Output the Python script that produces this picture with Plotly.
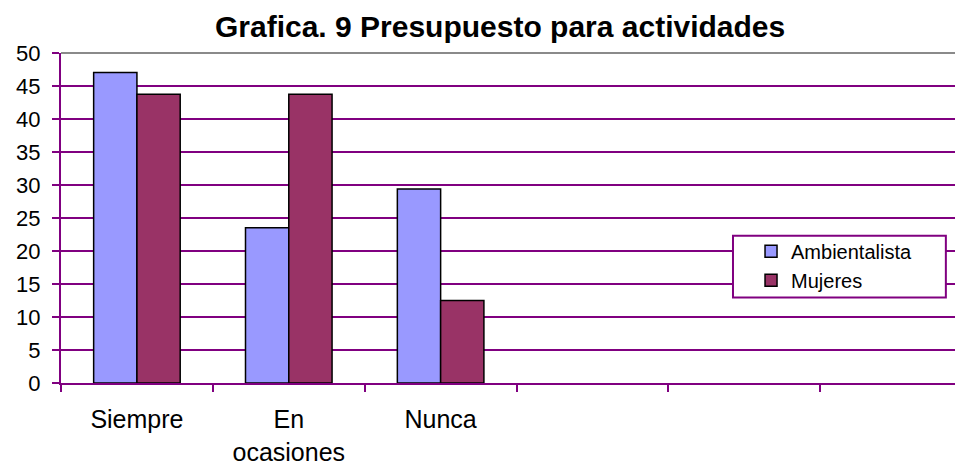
import plotly.graph_objects as go

categories = ["Siempre", "En<br>ocasiones", "Nunca", " ", "  ", "   "]
data_categories = ["Siempre", "En<br>ocasiones", "Nunca"]
ambientalista = [47.06, 23.53, 29.41]
mujeres = [43.75, 43.75, 12.5]

PURPLE = "#800080"
FONT = "Liberation Sans, Arial, sans-serif"

fig = go.Figure()
fig.add_trace(go.Bar(
    x=data_categories, y=ambientalista, name="Ambientalista",
    marker=dict(color="#9999FF", line=dict(color="black", width=1.5)),
))
fig.add_trace(go.Bar(
    x=data_categories, y=mujeres, name="Mujeres",
    marker=dict(color="#993366", line=dict(color="black", width=1.5)),
))

# legend frame and plot-area top border
fig.add_shape(type="rect", xref="paper", yref="paper",
              x0=0.745, x1=0.981, y0=0.259, y1=0.446,
              fillcolor="white", line=dict(color=PURPLE, width=2),
              layer="above")
fig.add_shape(type="line", xref="paper", yref="paper",
              x0=0, x1=1, y0=1, y1=1,
              line=dict(color="#8a8a8a", width=2), layer="above")

# page body adds 8px offset, so margins are shifted by that
fig.update_layout(
    width=963, height=466,
    margin=dict(l=52, r=8, t=45, b=89),
    paper_bgcolor="white", plot_bgcolor="white",
    barmode="group", bargap=0.43, bargroupgap=0,
    font=dict(family=FONT, size=22, color="black"),
    title=dict(
        text="<b>Grafica. 9 Presupuesto para actividades</b>",
        x=0.511, xanchor="center", y=0.961, yanchor="middle",
        font=dict(size=30, family=FONT, color="black"),
    ),
    legend=dict(
        x=0.765, y=0.458, xanchor="left", yanchor="top",
        bgcolor="rgba(0,0,0,0)", borderwidth=0,
        font=dict(size=20, family=FONT),
        itemwidth=30, tracegroupgap=0,
    ),
    showlegend=True,
)

fig.update_xaxes(
    type="category", categoryorder="array", categoryarray=categories,
    range=[-0.5, 5.44], tickson="boundaries",
    ticks="outside", ticklen=7, tickwidth=2, tickcolor=PURPLE,
    showline=True, linecolor=PURPLE, linewidth=2,
    showgrid=False, ticklabelstandoff=13, fixedrange=True,
    tickfont=dict(size=25),
)
fig.update_yaxes(
    range=[0, 50], dtick=5, tick0=0,
    ticks="outside", ticklen=7, tickwidth=2, tickcolor=PURPLE,
    showline=True, linecolor=PURPLE, linewidth=2,
    showgrid=True, gridcolor=PURPLE, gridwidth=2, zeroline=False,
    fixedrange=True, tickfont=dict(size=22), ticklabelstandoff=7,
)

fig.write_html("out.html")
